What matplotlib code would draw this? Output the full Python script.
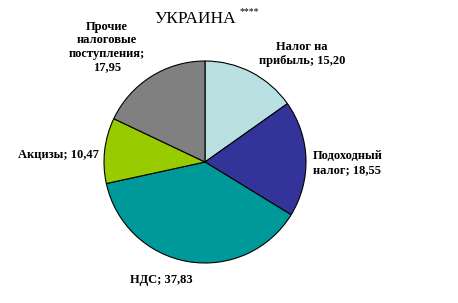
import matplotlib
matplotlib.use("Agg")
import matplotlib.pyplot as plt

# data
labels = ["Налог на\nприбыль", "Подоходный\nналог", "НДС", "Акцизы",
          "Прочие\nналоговые\nпоступления;\n"]
values = [15.20, 18.55, 37.83, 10.47, 17.95]
colors = ["#B8E0E0", "#333399", "#009999", "#99CC00", "#808080"]

W, H = 458, 303
fig = plt.figure(figsize=(W / 100, H / 100), dpi=100)
plt.rcParams["font.family"] = ["Liberation Serif", "DejaVu Serif"]

# pie centred at (205, 162) px, radius ~101 px
cx, cy, r = 205, 162, 101
ax = fig.add_axes([(cx - r) / W, (H - cy - r) / H, 2 * r / W, 2 * r / H])
ax.pie(values, colors=colors, startangle=90, counterclock=False,
       wedgeprops=dict(edgecolor="black", linewidth=0.8))
ax.set_xlim(-1.0, 1.0)
ax.set_ylim(-1.0, 1.0)
ax.set_aspect("equal")
ax.axis("off")


def fmt(v):
    return f"{v:.2f}".replace(".", ",")


def px(x, y):
    return x / W, 1 - y / H


def lab(i):
    sep = "" if labels[i].endswith("\n") else "; "
    return labels[i] + sep + fmt(values[i])


# label positions in pixels
kw = dict(fontsize=9, fontweight="bold", va="center", linespacing=1.15)
fig.text(*px(302, 54), lab(0), ha="center", **kw)
fig.text(*px(313, 163), lab(1), ha="left", **kw)
fig.text(*px(161, 280), lab(2), ha="center", **kw)
fig.text(*px(58, 155), lab(3), ha="center", **kw)
fig.text(*px(107, 47), lab(4), ha="center", **kw)

# title
fig.text(*px(195, 19), "УКРАИНА", ha="center", va="center", fontsize=12.5)
fig.text(*px(240, 12), "****", ha="left", va="center", fontsize=7)

fig.savefig("out.png", dpi=100)
